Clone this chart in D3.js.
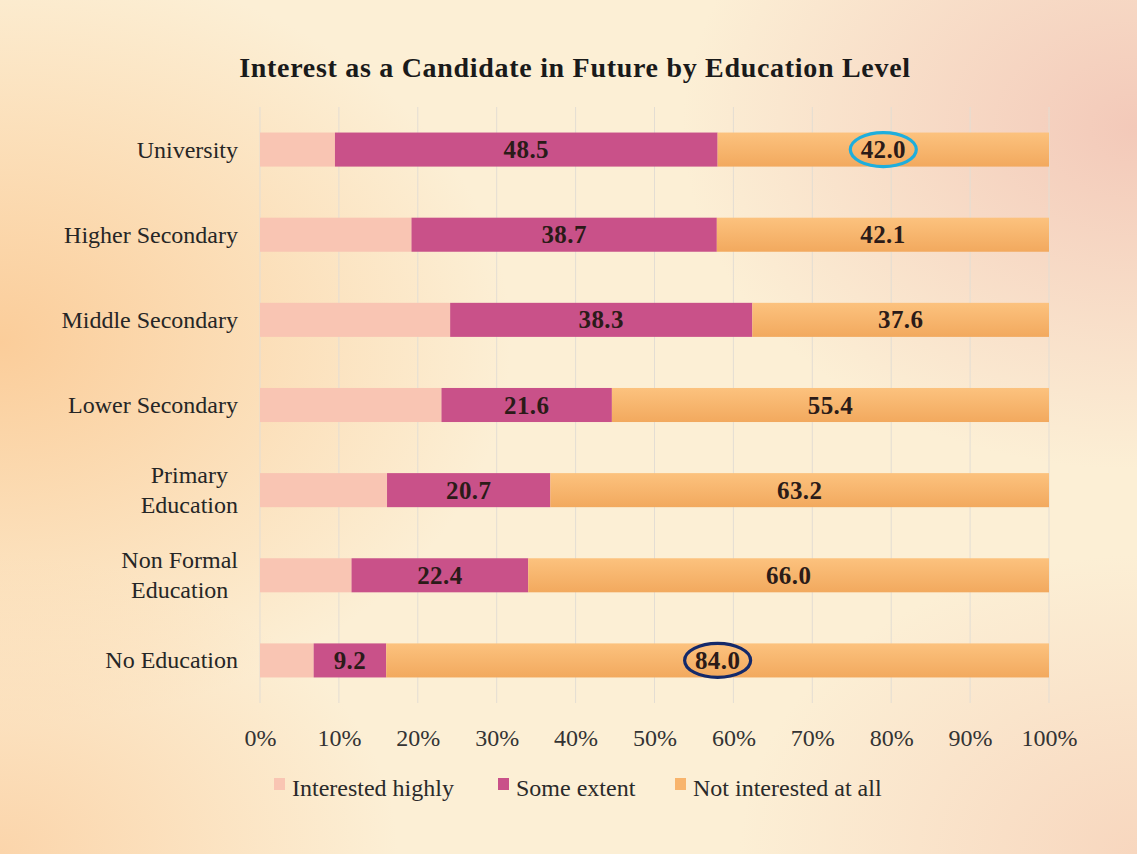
<!DOCTYPE html>
<html>
<head>
<meta charset="utf-8">
<script src="https://cdn.jsdelivr.net/npm/d3@7"></script>
<style>
  html, body { margin: 0; padding: 0; background: #fcefd5; }
  svg { display: block; }
</style>
</head>
<body>
<svg id="chart" width="1137" height="854"></svg>
<script>
// Education levels, top to bottom
const categories = [
  "University",
  "Higher Secondary",
  "Middle Secondary",
  "Lower Secondary",
  "Primary Education",
  "Non Formal Education",
  "No Education"
];
// Label lines for each level (multi-line where the label wraps)
const categoryLines = [
  ["University"],
  ["Higher Secondary"],
  ["Middle Secondary"],
  ["Lower Secondary"],
  ["Primary", "Education"],
  ["Non Formal", "Education"],
  ["No Education"]
];
// Percent shares per level
const interestedHighly = [9.5, 19.2, 24.1, 23.0, 16.1, 11.6, 6.8];
const someExtent       = [48.5, 38.7, 38.3, 21.6, 20.7, 22.4, 9.2];
const notInterested    = [42.0, 42.1, 37.6, 55.4, 63.2, 66.0, 84.0];

const seriesNames = ["Interested highly", "Some extent", "Not interested at all"];
const seriesKeys = ["high", "some", "none"];
const tickValues = [0, 10, 20, 30, 40, 50, 60, 70, 80, 90, 100];
// Highlighted values: [category, series key, ring colour]
const highlights = [
  ["University", "none", "#1eaedd"],
  ["No Education", "none", "#13296a"]
];

const rows = categories.map((c, i) => ({
  category: c,
  high: interestedHighly[i],
  some: someExtent[i],
  none: notInterested[i]
}));

const svg = d3.select("#chart");
const W = 1137, H = 854;
const serif = "'Liberation Serif', 'DejaVu Serif', serif";

// Background: warm cream with soft orange/pink glows
const defs = svg.append("defs");
function glow(id, cx, cy, r, color, op) {
  const g = defs.append("radialGradient").attr("id", id)
    .attr("cx", cx).attr("cy", cy).attr("r", r);
  g.append("stop").attr("offset", "0%").attr("stop-color", color).attr("stop-opacity", op);
  g.append("stop").attr("offset", "100%").attr("stop-color", color).attr("stop-opacity", 0);
}
glow("glowLeft", "0%", "40%", "45%", "#fbcd9a", 1);
glow("glowRight", "100%", "15%", "40%", "#f3c9b9", 1);
glow("glowBottom", "0%", "100%", "35%", "#fbd2a6", 0.9);
glow("glowBR", "100%", "100%", "35%", "#f7d4bc", 0.9);

svg.append("rect").attr("width", W).attr("height", H).attr("fill", "#fcefd5");
["glowLeft", "glowRight", "glowBottom", "glowBR"].forEach(id =>
  svg.append("rect").attr("width", W).attr("height", H).attr("fill", `url(#${id})`));

// Orange segment gradient (lighter at top)
const og = defs.append("linearGradient").attr("id", "orangeFill")
  .attr("x1", 0).attr("y1", 0).attr("x2", 0).attr("y2", 1);
og.append("stop").attr("offset", "0%").attr("stop-color", "#fcc27e");
og.append("stop").attr("offset", "100%").attr("stop-color", "#f2a95e");

const colors = { high: "#f9c5b3", some: "#c95189", none: "url(#orangeFill)" };
const legendColors = { high: "#f9c5b3", some: "#c95189", none: "#f8b46c" };

const x = d3.scaleLinear().domain([0, 100]).range([260, 1049]);
const y = d3.scaleBand().domain(categories).range([107, 703]).paddingInner(0.6).paddingOuter(0.3);

// Title
svg.append("text")
  .attr("x", 575).attr("y", 77)
  .attr("text-anchor", "middle")
  .attr("font-family", serif).attr("font-weight", "bold")
  .attr("font-size", 28).attr("letter-spacing", 0.7).attr("fill", "#1a1a1a")
  .text("Interest as a Candidate in Future by Education Level");

// Vertical gridlines
svg.append("g").selectAll("line").data(tickValues).join("line")
  .attr("x1", d => x(d)).attr("x2", d => x(d))
  .attr("y1", 107).attr("y2", 703)
  .attr("stroke", "#e3ddd3").attr("stroke-width", 1);

// Stacked bars
const stack = d3.stack().keys(seriesKeys);
const stacked = stack(rows);
const layers = svg.append("g").selectAll("g").data(stacked).join("g")
  .attr("fill", d => colors[d.key]);
layers.selectAll("rect").data(d => d).join("rect")
  .attr("x", d => x(d[0]))
  .attr("width", d => x(d[1]) - x(d[0]))
  .attr("y", d => y(d.data.category))
  .attr("height", y.bandwidth());

// Value labels (not shown for the first series)
stacked.filter(s => s.key !== "high").forEach(s => {
  svg.append("g").selectAll("text").data(s).join("text")
    .attr("x", d => (x(d[0]) + x(d[1])) / 2)
    .attr("y", d => y(d.data.category) + y.bandwidth() / 2 + 8.5)
    .attr("text-anchor", "middle")
    .attr("font-family", serif).attr("font-weight", "bold")
    .attr("font-size", 25).attr("letter-spacing", 0.4).attr("fill", "#2b1b18")
    .text(d => d.data[s.key].toFixed(1));
});

// Highlight rings around selected values
highlights.forEach(([cat, key, col]) => {
  const layer = stacked.find(s => s.key === key);
  const d = layer.find(v => v.data.category === cat);
  svg.append("ellipse")
    .attr("cx", (x(d[0]) + x(d[1])) / 2)
    .attr("cy", y(cat) + y.bandwidth() / 2)
    .attr("rx", 33).attr("ry", 17)
    .attr("fill", "none").attr("stroke", col).attr("stroke-width", 3.2);
});

// Category labels: right aligned block, lines centred within it
const labelRight = 238;
const labelG = svg.append("g");
categoryLines.forEach((lines, i) => {
  const cy = y(categories[i]) + y.bandwidth() / 2;
  const lh = 30;
  const t = labelG.append("text")
    .attr("font-family", serif).attr("font-size", 24).attr("fill", "#262626");
  lines.forEach((ln, j) => {
    t.append("tspan").attr("x", 0)
      .attr("y", cy + 8 + (j - (lines.length - 1) / 2) * lh)
      .text(ln);
  });
  const widths = [];
  t.selectAll("tspan").each(function () { widths.push(this.getComputedTextLength()); });
  const maxW = d3.max(widths);
  t.attr("text-anchor", "middle");
  t.selectAll("tspan").attr("x", labelRight - maxW / 2);
});

// X axis tick labels
const xAxis = d3.axisBottom(x).tickValues(tickValues).tickFormat(d => d + "%").tickSize(0).tickPadding(0);
const ax = svg.append("g").attr("transform", "translate(0,729)").call(xAxis);
ax.select(".domain").remove();
ax.selectAll("text")
  .attr("font-family", serif).attr("font-size", 24).attr("fill", "#333");

// Legend
const legendItems = [
  { key: "high", x: 274 },
  { key: "some", x: 498 },
  { key: "none", x: 675 }
];
const lg = svg.append("g");
legendItems.forEach((it, i) => {
  lg.append("rect").attr("x", it.x).attr("y", 778).attr("width", 11).attr("height", 12)
    .attr("fill", legendColors[it.key]);
  lg.append("text").attr("x", it.x + 18).attr("y", 796)
    .attr("font-family", serif).attr("font-size", 24).attr("fill", "#2a2a2a")
    .text(seriesNames[i]);
});
</script>
</body>
</html>
